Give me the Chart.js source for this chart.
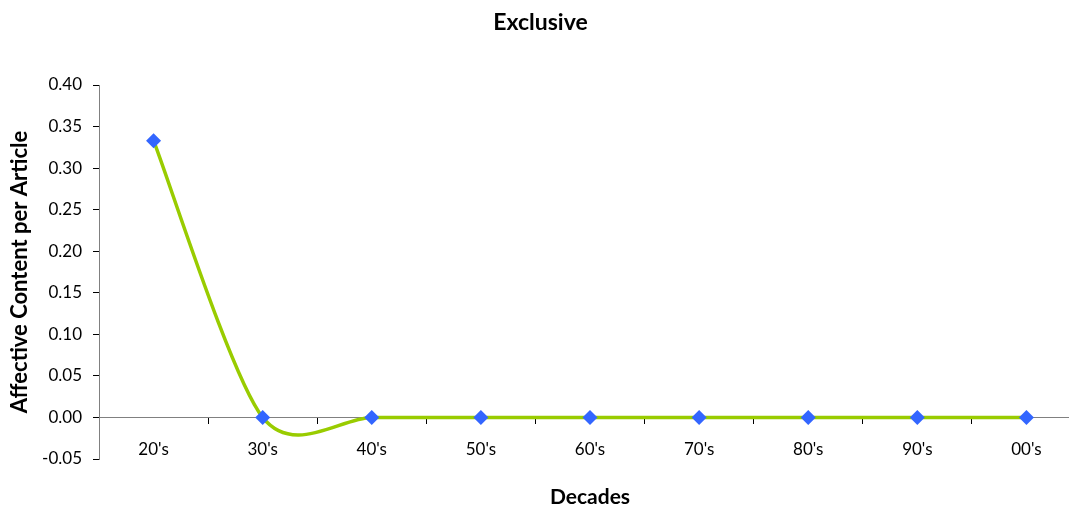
<!DOCTYPE html>
<html>
<head>
<meta charset="utf-8">
<script src="https://cdn.jsdelivr.net/npm/chart.js@4"></script>
<style>
  html, body { margin: 0; padding: 0; background: #fff; overflow: hidden; }
  #wrap { width: 1081px; height: 506px; }
</style>
</head>
<body>
<div id="wrap"><canvas id="myChart"></canvas></div>
<script>
const decades = ["20's", "30's", "40's", "50's", "60's", "70's", "80's", "90's", "00's"]
const affective = [0.333, 0, 0, 0, 0, 0, 0, 0, 0]

const fontFamily = 'Lato, "Open Sans", sans-serif'

// Excel-style smoothing: control points along the neighbour chord
const excelSmooth = {
  id: 'excelSmooth',
  beforeDatasetsDraw(chart) {
    chart.getSortedVisibleDatasetMetas().forEach((meta) => {
      const pts = meta.data
      pts.forEach((p, i) => {
        const prev = pts[i - 1] || p
        const next = pts[i + 1] || p
        const dx = (next.x - prev.x) / 7
        const dy = (next.y - prev.y) / 7
        p.cp1x = p.x - dx
        p.cp1y = p.y - dy
        p.cp2x = p.x + dx
        p.cp2y = p.y + dy
      })
      meta.dataset._pointsUpdated = true
    })
  },
}

const data = {
  labels: decades,
  datasets: [
    {
      label: 'Exclusive',
      data: affective,
      borderColor: '#99cc00',
      borderWidth: 3.5,
      tension: 0.4,
      pointStyle: 'rectRot',
      pointRadius: 7.5,
      pointHoverRadius: 7.5,
      pointBackgroundColor: '#3366ff',
      pointBorderWidth: 0,
      fill: false,
    },
  ],
}

const config = {
  type: 'line',
  data: data,
  plugins: [excelSmooth],
  options: {
    responsive: true,
    maintainAspectRatio: false,
    animation: false,
    layout: {
      autoPadding: false,
      padding: { left: 0, right: 0, top: 0, bottom: 47 },
    },
    plugins: {
      legend: { display: false },
      tooltip: { enabled: false },
      title: {
        display: true,
        text: 'Exclusive',
        color: '#000',
        font: { family: fontFamily, size: 23, weight: 'bold' },
        padding: { top: 9, bottom: 48.4 },
      },
    },
    scales: {
      x: {
        position: { y: 0 },
        offset: true,
        grid: {
          offset: true,
          drawOnChartArea: false,
          drawTicks: true,
          tickLength: 6,
          tickColor: '#000',
        },
        border: { color: '#808080', width: 1 },
        ticks: {
          color: '#000',
          padding: 16,
          font: { family: fontFamily, size: 17 },
        },
        title: {
          display: true,
          text: 'Decades',
          color: '#000',
          font: { family: fontFamily, size: 21, weight: 'bold' },
          padding: { top: 0, bottom: 0 },
        },
        afterFit: (scale) => {
          scale.height = 92
          scale.paddingLeft = 0
          scale.paddingRight = 0
        },
      },
      y: {
        min: -0.05,
        max: 0.4,
        grid: {
          drawOnChartArea: false,
          drawTicks: true,
          tickLength: 6,
          tickColor: '#000',
        },
        border: { color: '#808080', width: 1 },
        ticks: {
          stepSize: 0.05,
          color: '#000',
          padding: 11,
          font: { family: fontFamily, size: 17 },
          callback: (v) => v.toFixed(2),
        },
        title: {
          display: true,
          text: 'Affective Content per Article',
          color: '#000',
          font: { family: fontFamily, size: 22, weight: 'bold' },
          padding: { top: 7, bottom: 0 },
        },
        afterFit: (scale) => { scale.width = 99 },
      },
    },
  },
}

var myChart = new Chart(document.getElementById('myChart'), config)
</script>
</body>
</html>
